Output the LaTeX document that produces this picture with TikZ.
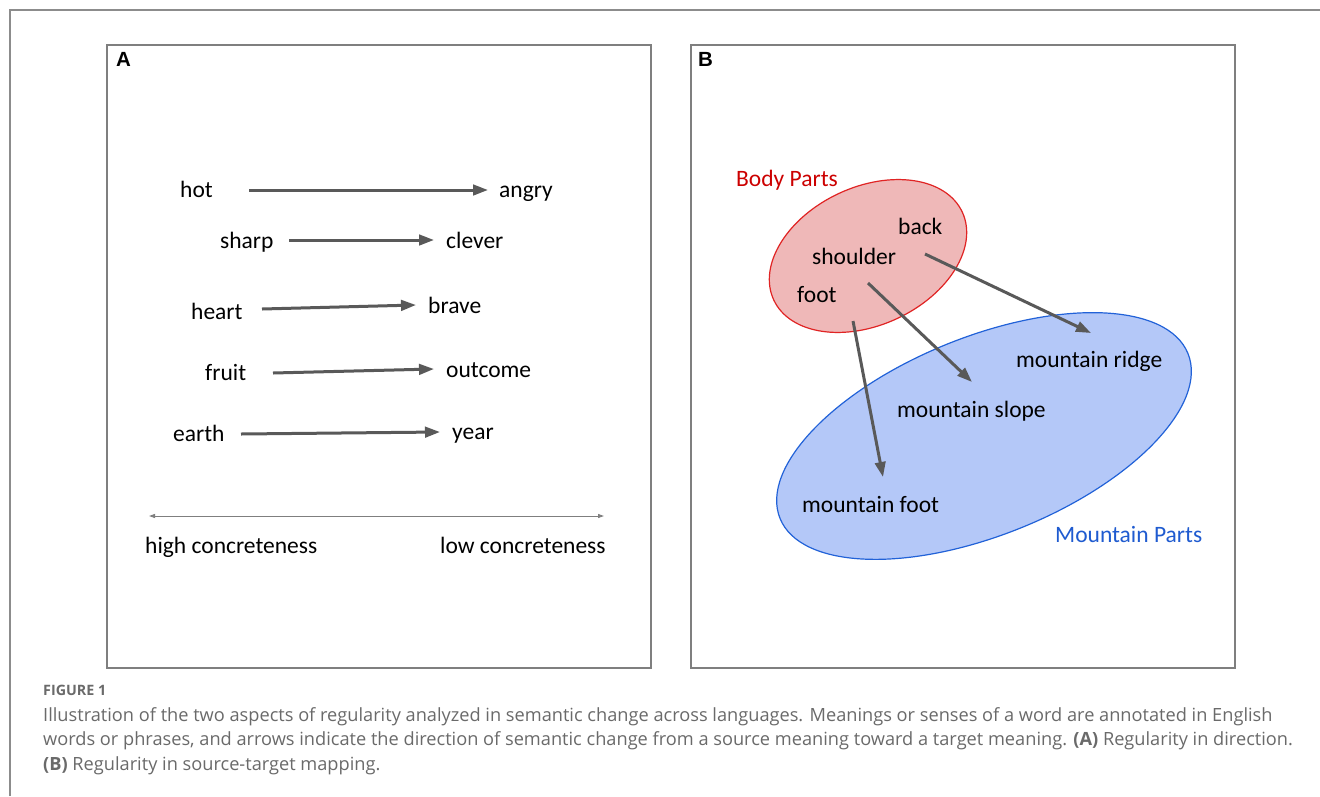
\documentclass[tikz,border=0pt]{standalone}
\usepackage{fontspec}
\setmainfont{Carlito}
\newfontfamily\capfont{Open Sans}
\newfontfamily\labfont{Liberation Sans}
\usetikzlibrary{arrows.meta,shapes.geometric}
\definecolor{arrgray}{HTML}{595959}
\definecolor{framegray}{HTML}{7F7F7F}
\definecolor{outergray}{HTML}{8C8C8C}
\definecolor{capgray}{HTML}{6A6A6A}
\definecolor{bodyfill}{HTML}{EFB8B8}
\definecolor{bodyline}{HTML}{E02424}
\definecolor{bodytext}{HTML}{CC0000}
\definecolor{mtfill}{HTML}{B4C8F8}
\definecolor{mtline}{HTML}{2262D8}
\definecolor{mttext}{HTML}{1F5BD0}
\begin{document}
\begin{tikzpicture}[x=1pt,y=1pt,
  word/.style={font=\fontsize{23.5}{28}\selectfont, inner sep=0pt, anchor=base west},
  conn/.style={draw=arrgray, line width=3pt, -{Triangle[length=15pt,width=10.5pt]}},
  scalearrow/.style={draw=framegray, line width=1pt, {Triangle[length=6pt,width=4pt]}-{Triangle[length=6pt,width=4pt]}},
  panel/.style={draw=framegray, line width=1.5pt},
  panellabel/.style={font=\labfont\bfseries\fontsize{20.5}{22}\selectfont, inner sep=0pt, anchor=base west},
  capline/.style={font=\capfont\fontsize{18.2}{20}\selectfont, text=capgray, inner sep=0pt, anchor=base west},
  capbold/.style={font=\capfont\bfseries\fontsize{14.3}{16}\selectfont, text=capgray, inner sep=0pt, anchor=base west},
  blob/.style={ellipse, inner sep=0pt, line width=1.2pt}
]
\useasboundingbox (0,0) rectangle (1320,-796);
\fill[white] (0,0) rectangle (1320,-796);
% outer frame
\draw[draw=outergray, line width=2pt] (10,-796) -- (10,-10) -- (1320,-10);
% panels
\draw[panel] (107,-45) rectangle (651,-668);
\draw[panel] (691,-45) rectangle (1235,-668);
\node[panellabel] (labA) at (116,-66) {A};
\node[panellabel] (labB) at (698,-66) {B};

% ---------- Panel A ----------
\node[word] (hot)   at (180,-197) {hot};
\node[word] (angry) at (499,-197) {angry};
\node[word] (sharp) at (220,-248) {sharp};
\node[word] (clever) at (446,-248) {clever};
\node[word] (heart) at (191,-319) {heart};
\node[word] (brave) at (428,-313) {brave};
\node[word] (fruit) at (205,-380) {fruit};
\node[word] (outcome) at (446,-377) {outcome};
\node[word] (earth) at (173,-441) {earth};
\node[word] (year)  at (452,-439) {year};

\coordinate (hotS) at (249,-190);   \coordinate (hotE) at (488,-190);
\coordinate (sharpS) at (289,-240); \coordinate (sharpE) at (434,-240);
\coordinate (heartS) at (262,-309); \coordinate (heartE) at (416,-305);
\coordinate (fruitS) at (273,-373); \coordinate (fruitE) at (434,-369);
\coordinate (earthS) at (241,-434); \coordinate (earthE) at (440,-432);
\draw[conn] (hotS) -- (hotE);
\draw[conn] (sharpS) -- (sharpE);
\draw[conn] (heartS) -- (heartE);
\draw[conn] (fruitS) -- (fruitE);
\draw[conn] (earthS) -- (earthE);

\coordinate (scL) at (149,-516); \coordinate (scR) at (604,-516);
\draw[scalearrow] (scL) -- (scR);
\node[word] (high) at (145,-553) {high concreteness};
\node[word] (low)  at (440,-553) {low concreteness};

% ---------- Panel B ----------
\node[blob, draw=mtline, fill=mtfill, minimum width=440, minimum height=198, rotate=22] (mtell) at (984,-436) {};
\node[blob, draw=bodyline, fill=bodyfill, minimum width=208, minimum height=138, rotate=25] (bodyell) at (868,-256) {};

\node[word, text=bodytext] (bodyparts) at (736,-186) {Body Parts};
\node[word, text=mttext] (mtparts) at (1055,-542) {Mountain Parts};
\node[word] (back) at (898,-234) {back};
\node[word] (shoulder) at (812,-264) {shoulder};
\node[word] (foot) at (797,-302) {foot};
\node[word] (ridge) at (1016,-367) {mountain ridge};
\node[word] (slope) at (897,-417) {mountain slope};
\node[word] (mfoot) at (802,-512) {mountain foot};

\coordinate (backS) at (925,-254);     \coordinate (backE) at (1091,-333);
\coordinate (shoulderS) at (868,-283); \coordinate (shoulderE) at (972,-382);
\coordinate (footS) at (853,-321);     \coordinate (footE) at (883,-477);
\draw[conn] (backS) -- (backE);
\draw[conn] (shoulderS) -- (shoulderE);
\draw[conn] (footS) -- (footE);

% ---------- Caption ----------
\node[capbold] (fig) at (43,-695) {FIGURE 1};
\node[capline] (cap1) at (43,-721) {Illustration of the two aspects of regularity analyzed in semantic change across languages. Meanings or senses of a word are annotated in English};
\node[capline] (cap2) at (43,-745.5) {words or phrases, and arrows indicate the direction of semantic change from a source meaning toward a target meaning. \textbf{(A)} Regularity in direction.};
\node[capline] (cap3) at (43,-770) {\textbf{(B)} Regularity in source-target mapping.};
\end{tikzpicture}
\end{document}
